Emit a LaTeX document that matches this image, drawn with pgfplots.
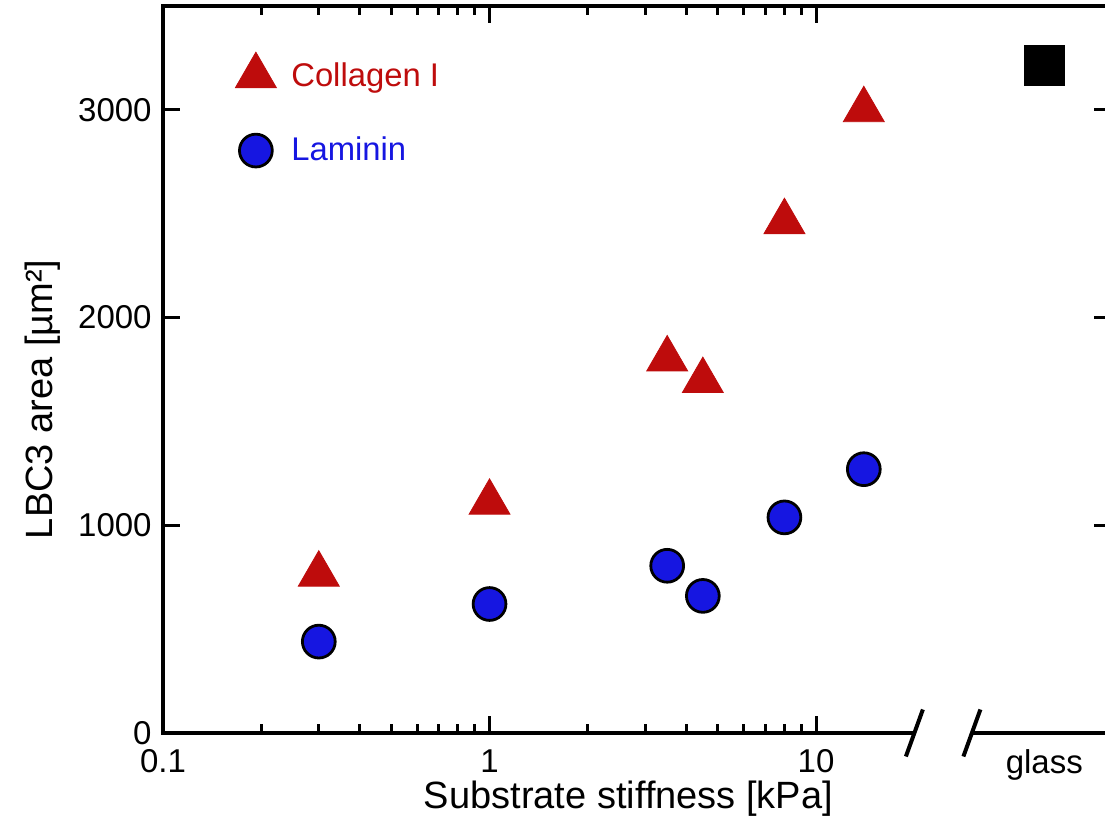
\documentclass[border=0pt]{standalone}
\usepackage{fontspec}
\setmainfont{Liberation Sans}
\usepackage{pgfplots}
\pgfplotsset{compat=1.18}
\definecolor{colred}{RGB}{190,12,12}
\definecolor{lamblue}{RGB}{22,22,225}
\begin{document}
\begin{tikzpicture}
\begin{axis}[name=ax, scale only axis, width=474pt, height=363.5pt,
  xmode=log, xmin=0.1, xmax=80, ymin=0, ymax=3500,
  xtick={0.1,1,10}, xticklabels={0.1,1,10},
  extra x ticks={50}, extra x tick labels={glass},
  extra x tick style={major tick length=0pt},
  ytick={0,1000,2000,3000}, yticklabels={0,1000,2000,3000},
  tick align=inside, major tick length=8.5pt, minor tick length=4.5pt,
  tick style={black, line width=1.5pt},
  axis line style={line width=2pt},
  /pgf/number format/assume math mode=true,
  ticklabel style={font=\fontsize{16.5}{19}\selectfont},
  xticklabel style={inner sep=0pt, anchor=north, yshift=-8pt},
  yticklabel style={inner sep=0pt, anchor=east, xshift=-5.5pt},
  xlabel={Substrate stiffness [kPa]},
  ylabel={LBC3 area [µm²]},
  label style={font=\fontsize{19}{22}\selectfont},
  xlabel style={at={(axis description cs:0.491,0)}, anchor=center, yshift=-33pt},
  ylabel style={at={(axis description cs:0,0.459)}, anchor=center, yshift=60pt},
  legend style={at={(axis description cs:0.076,0.937)}, anchor=north west,
    draw=none, fill=none, inner sep=0pt, row sep=20pt, column sep=5.5pt,
    font=\fontsize{16.4}{19}\selectfont},
  legend cell align=left,
  legend image code/.code={\draw[#1] plot coordinates {(0pt,0pt)};},
  clip=false]
% Collagen I
\addplot[only marks, mark=triangle*, mark size=11.8pt,
  mark options={fill=colred, draw=colred, line width=0.4pt}] coordinates {
(0.3,764) (1,1110) (3.5,1800) (4.5,1696) (8,2461) (14,3000)
};
\addlegendentry{\textcolor{colred}{Collagen I}}
% Laminin
\addplot[only marks, mark=*, mark size=8.2pt,
  mark options={fill=lamblue, draw=black, line width=1.4pt}] coordinates {
(0.3,440) (1,621) (3.5,805) (4.5,660) (8,1038) (14,1270)
};
\addlegendentry{\textcolor{lamblue}{Laminin}}
% glass
\addplot[only marks, mark=square*, mark size=10pt, black, forget plot] coordinates {
(50,3216)
};
\coordinate (b1) at (axis cs:20,0);
\coordinate (b2) at (axis cs:30,0);
\end{axis}
% axis break
\fill[white] ([yshift=-3pt]b1) rectangle ([yshift=6pt]b2);
\draw[line width=2pt] ([xshift=-4.25pt,yshift=-11.75pt]b1) -- ([xshift=4.25pt,yshift=11.75pt]b1);
\draw[line width=2pt] ([xshift=-4.25pt,yshift=-11.75pt]b2) -- ([xshift=4.25pt,yshift=11.75pt]b2);
\pgfresetboundingbox
\path (-81.5pt,-48pt) rectangle (471pt,366.5pt);
\end{tikzpicture}
\end{document}
